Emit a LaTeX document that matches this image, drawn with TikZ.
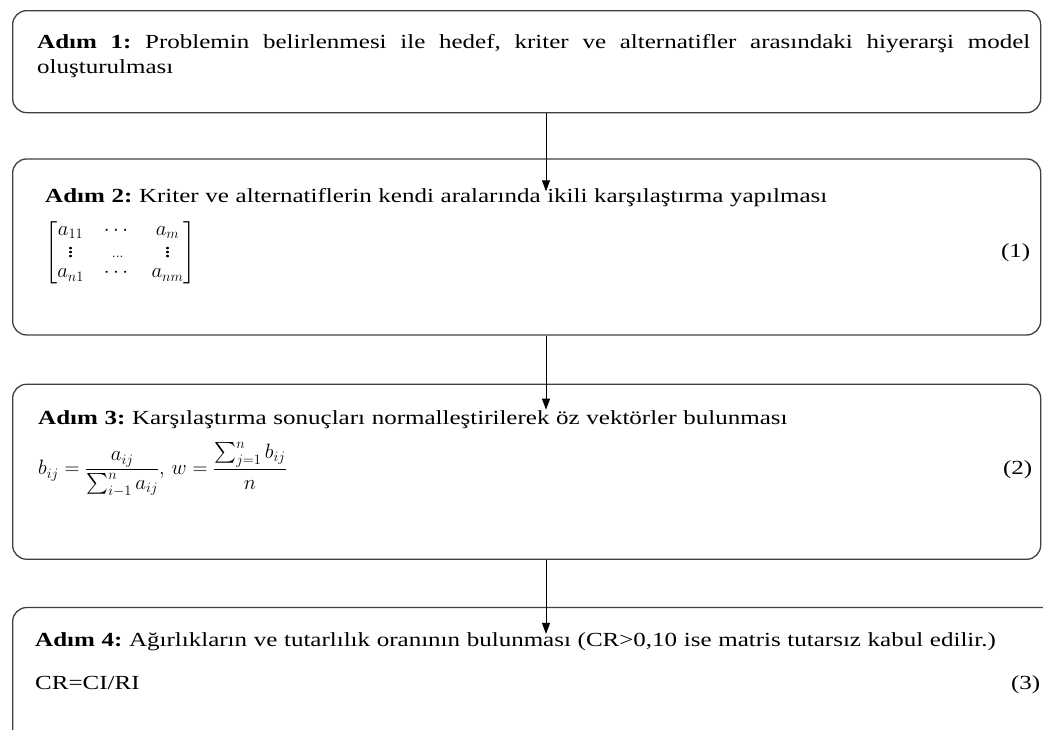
\documentclass[tikz,border=0pt]{standalone}
\usepackage{amsmath}
\usepackage{fontspec}
\setmainfont{Liberation Serif}[FakeStretch=1.25]
\usetikzlibrary{arrows.meta,positioning}
\frenchspacing
\hyphenpenalty=10000
\tikzset{frame/.style={draw=black!75,line width=1.3pt,rounded corners=14pt,minimum width=1028pt,inner sep=0pt},body/.style={anchor=north west,inner sep=0pt,align=left,font=\fontsize{20}{25}\selectfont},arr/.style={-{Triangle[length=11pt,width=8pt]},line width=0.9pt}}

\begin{document}
\begin{tikzpicture}[node distance=46pt]
\useasboundingbox (0,0) rectangle (1043pt,-729pt);
\node[frame,minimum height=102pt,anchor=north west] (step1) at (12pt,-10pt) {};
\node[frame,minimum height=176pt,below=45pt of step1.south west,anchor=north west] (step2) {};
\node[frame,minimum height=175pt,below=48pt of step2.south west,anchor=north west] (step3) {};
\node[frame,minimum height=135pt,minimum width=1060pt,below=47pt of step3.south west,anchor=north west] (step4) {};
\node[body,text width=993pt,align=justify] (txt1) at ([xshift=25pt,yshift=-24pt]step1.north west) {\textbf{Adım 1:} Problemin belirlenmesi ile hedef, kriter ve alternatifler arasındaki hiyerarşi model oluşturulması};
\node[body,text width=985pt] (txt2) at ([xshift=33pt,yshift=-30pt]step2.north west) {\textbf{Adım 2:} Kriter ve alternatiflerin kendi aralarında ikili karşılaştırma yapılması\\[13pt]
{\fontsize{21}{24}\selectfont\renewcommand\arraystretch{0.85}$\arraycolsep=10pt\begin{bmatrix} a_{11} & \cdots & a_{m}\\ \vdots & {\scriptstyle\dots} & \vdots\\ a_{n1} & \cdots & a_{nm}\end{bmatrix}$}\hspace*{\fill}(1)};
\node[body,text width=994pt] (txt3) at ([xshift=26pt,yshift=-27pt]step3.north west) {\textbf{Adım 3:} Karşılaştırma sonuçları normalleştirilerek öz vektörler bulunması\\[12pt]
{\fontsize{20}{24}\selectfont$\displaystyle b_{ij}=\frac{a_{ij}}{\sum_{i-1}^{n}a_{ij}},\, w=\frac{\sum_{j=1}^{n}b_{ij}}{n}$}\hspace*{\fill}(2)};
\node[body,text width=1005pt] (txt4) at ([xshift=23pt,yshift=-26pt]step4.north west) {\textbf{Adım 4:} Ağırlıkların ve tutarlılık oranının bulunması (CR>0,10 ise matris tutarsız kabul edilir.)\\[18pt]
CR=CI/RI\hspace*{\fill}(3)};
\coordinate (in2) at ([xshift=534pt,yshift=-33pt]step2.north west);
\coordinate (in3) at ([xshift=534pt,yshift=-26pt]step3.north west);
\coordinate (in4) at ([xshift=534pt,yshift=-27pt]step4.north west);
\draw[arr] ([xshift=534pt]step1.south west) -- (in2);
\draw[arr] ([xshift=534pt]step2.south west) -- (in3);
\draw[arr] ([xshift=534pt]step3.south west) -- (in4);
\end{tikzpicture}
\end{document}
